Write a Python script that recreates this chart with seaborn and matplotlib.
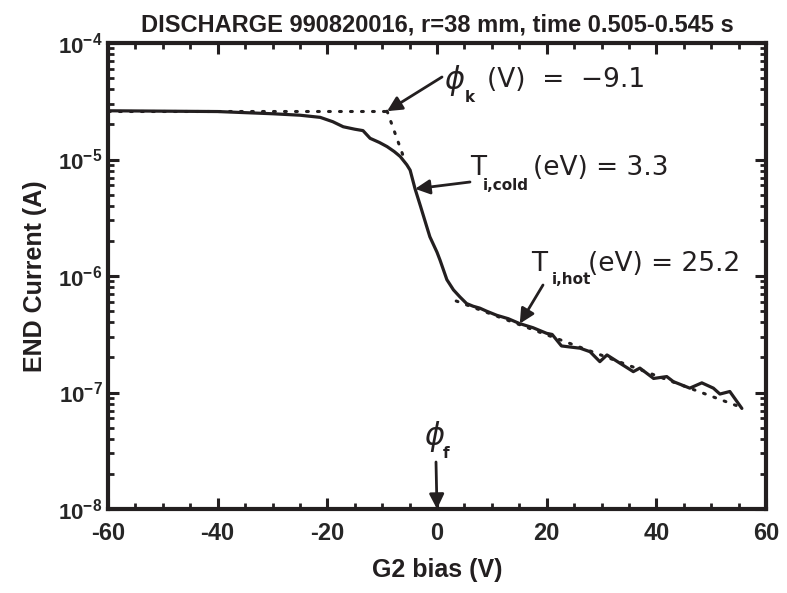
import matplotlib
matplotlib.use("Agg")
import matplotlib.pyplot as plt
import seaborn as sns

# data
bias_v = [-60, -50, -40, -30, -25, -21.3, -19, -17.1, -15, -13.5, -12.2, -10.5,
          -9.1, -7.8, -6.7, -5.5, -4.9, -4.0, -3.0, -1.9, -1.3, 0, 0.55, 1.8,
          3, 4.2, 5.4, 6.6, 7.8, 9, 10.9, 13, 15.1, 17.5, 20, 21, 22.7, 24.5,
          26.1, 27.9, 29.7, 31, 33.4, 35.8, 37, 39.5, 41.9, 43.1, 46.1, 48.3,
          50.4, 51.6, 53.4, 55.6]
end_current = [2.62e-5, 2.6e-5, 2.58e-5, 2.47e-5, 2.4e-5, 2.3e-5, 2.11e-5,
               1.91e-5, 1.82e-5, 1.77e-5, 1.52e-5, 1.4e-5, 1.29e-5, 1.17e-5,
               1.06e-5, 9.0e-6, 8.1e-6, 5.6e-6, 3.96e-6, 2.68e-6, 2.17e-6,
               1.6e-6, 1.37e-6, 9.3e-7, 7.6e-7, 6.6e-7, 5.8e-7, 5.5e-7, 5.3e-7,
               5.0e-7, 4.6e-7, 4.3e-7, 3.9e-7, 3.6e-7, 3.22e-7, 3.15e-7,
               2.51e-7, 2.45e-7, 2.4e-7, 2.24e-7, 1.84e-7, 2.1e-7, 1.78e-7,
               1.51e-7, 1.62e-7, 1.32e-7, 1.37e-7, 1.24e-7, 1.09e-7, 1.21e-7,
               1.09e-7, 9.7e-8, 1.02e-7, 7.3e-8]

# dotted fit lines
knee_v = [-60, -9.1]
knee_i = [2.6e-5, 2.6e-5]
cold_v = [-9.1, -6.0]
cold_i = [2.6e-5, 1.02e-5]
hot_v = [3.5, 56.0]
hot_i = [6.1e-7, 7.3e-8]

x_ticks = [-60, -40, -20, 0, 20, 40, 60]
y_ticks = [1e-8, 1e-7, 1e-6, 1e-5, 1e-4]
y_labels = [r"$\mathbf{10^{-8}}$", r"$\mathbf{10^{-7}}$", r"$\mathbf{10^{-6}}$",
            r"$\mathbf{10^{-5}}$", r"$\mathbf{10^{-4}}$"]

ink = "#231f20"

sns.set_style("ticks")
plt.rcParams["font.family"] = ["Liberation Sans", "DejaVu Sans"]
plt.rcParams["axes.unicode_minus"] = False
plt.rcParams["mathtext.fontset"] = "custom"
plt.rcParams["mathtext.rm"] = "Liberation Sans"
plt.rcParams["mathtext.bf"] = "Liberation Sans:bold"

W, H = 787, 593
fig = plt.figure(figsize=(W / 100, H / 100), dpi=100)
ax = fig.add_axes([108 / W, 1 - 509 / H, (766 - 108) / W, (509 - 43) / H])

sns.lineplot(x=bias_v, y=end_current, ax=ax, color=ink, lw=2.3, estimator=None, sort=False)
for fv, fi in [(knee_v, knee_i), (cold_v, cold_i), (hot_v, hot_i)]:
    ax.plot(fv, fi, color=ink, lw=2.2, linestyle=(0, (0.6, 3.0)), dash_capstyle="round")

ax.set_yscale("log")
ax.set_xlim(-60, 60)
ax.set_ylim(1e-8, 1e-4)
ax.set_xticks(x_ticks)
ax.set_xticklabels([str(t) for t in x_ticks])
ax.set_xticks(range(-60, 61, 5), minor=True)
ax.set_yticks(y_ticks)
ax.set_yticklabels(y_labels)
ax.tick_params(which="both", direction="in", top=True, right=True, color=ink)
ax.tick_params(which="major", length=8, width=2.2, labelsize=17, pad=9)
ax.tick_params(which="minor", length=4.5, width=2.0)
ax.tick_params(axis="y", which="major", labelsize=16, pad=4)
for lab in ax.get_xticklabels():
    lab.set_fontweight("bold")
for sp in ax.spines.values():
    sp.set_linewidth(3)
    sp.set_color(ink)

ax.set_xlabel("G2 bias (V)", fontsize=18, fontweight="bold", color=ink, labelpad=10)
ax.set_ylabel("END Current (A)", fontsize=18, fontweight="bold", color=ink, labelpad=8)
ax.set_title("DISCHARGE 990820016, r=38 mm, time 0.505-0.545 s",
             fontsize=17, fontweight="bold", color=ink, pad=8)


def fp(x, y):
    # figure pixel position measured from the top-left corner
    return (x, H - y)


arrow = dict(arrowstyle="-|>", color=ink, lw=2, mutation_scale=22, shrinkA=0, shrinkB=0)
ax.annotate("", xy=(knee_v[1], knee_i[1]), xycoords="data",
            xytext=fp(442, 77), textcoords="figure pixels", arrowprops=arrow)
ax.annotate("", xy=(-4.0, 5.6e-6), xycoords="data",
            xytext=fp(470, 182), textcoords="figure pixels", arrowprops=arrow)
ax.annotate("", xy=(15.1, 3.9e-7), xycoords="data",
            xytext=fp(543, 285), textcoords="figure pixels", arrowprops=arrow)
ax.annotate("", xy=(0, 1e-8), xycoords="data",
            xytext=fp(436, 462), textcoords="figure pixels", arrowprops=arrow)

lab = dict(color=ink, fontsize=19, family="DejaVu Sans", va="center", ha="left")
phi = dict(color=ink, fontsize=22, family="DejaVu Sans", style="italic", va="center", ha="left")
sub = dict(color=ink, fontsize=11, family="DejaVu Sans", fontweight="bold", va="center", ha="left")


def ftext(x, y, s, **kw):
    fig.text(x / W, 1 - y / H, s, **kw)


ftext(444, 80, "\u03d5", **phi)
ftext(465, 97, "k", **sub)
ftext(487, 80, "(V)  =  \u22129.1", **lab)

ftext(470, 168, "T", **lab)
ftext(483, 185, "i,cold", **sub)
ftext(533, 168, "(eV) = 3.3", **lab)

ftext(531, 264, "T", **lab)
ftext(552, 280, "i,hot", **sub)
ftext(588, 264, "(eV) = 25.2", **lab)

ftext(424, 436, "\u03d5", **phi)
ftext(443, 453, "f", **sub)

fig.savefig("out.png", dpi=100)
